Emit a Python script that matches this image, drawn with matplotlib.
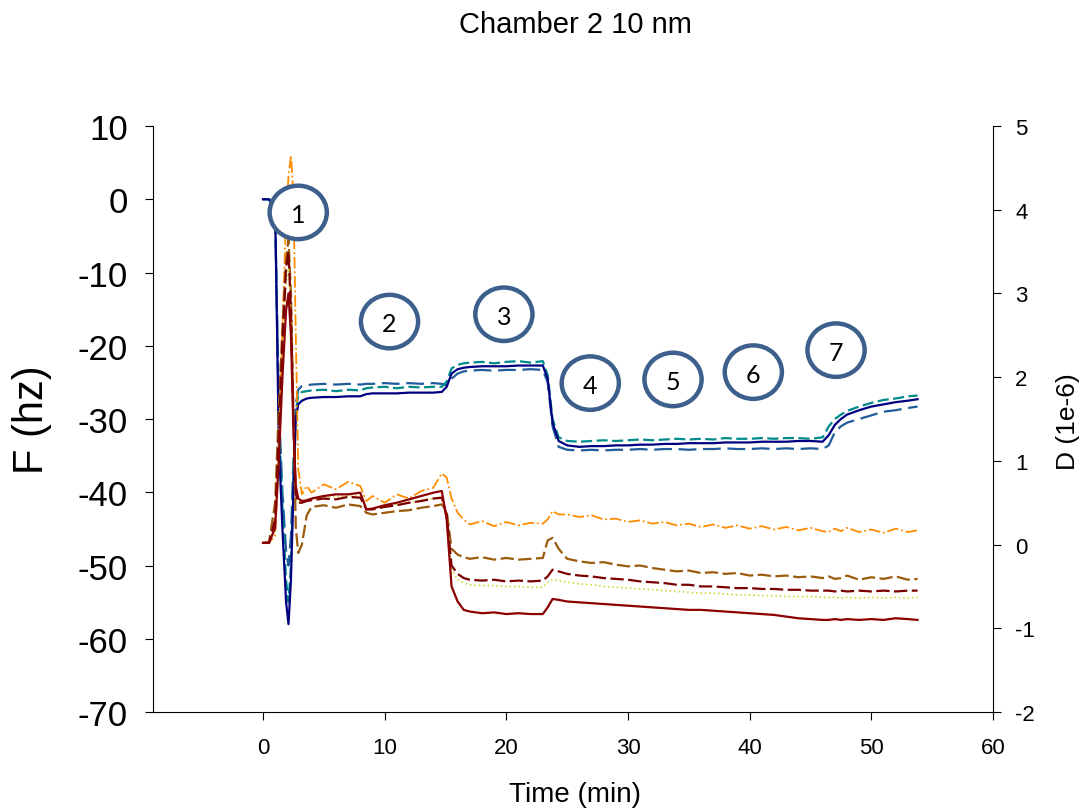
import matplotlib.pyplot as plt
from matplotlib.patches import Ellipse

plt.rcParams['font.family'] = ['Liberation Sans', 'DejaVu Sans']
plt.rcParams['axes.unicode_minus'] = False

# time grid (min), denser around the injection steps
t = [0, 0.5, 1.0, 1.3, 1.6, 1.9, 2.1, 2.3, 2.5, 2.7, 2.9, 3.2, 3.6, 4,
     5, 6, 7, 8, 8.5, 9, 10, 11, 12, 13, 14, 14.7, 15.1, 15.5, 16, 16.5,
     17, 18, 19, 20, 21, 22, 23, 23.4, 23.8, 24.3,
     25, 26, 27, 28, 29, 30, 31, 32, 33, 34, 35, 36, 37, 38, 39, 40,
     41, 42, 43, 44, 45, 46, 46.5, 47, 47.5, 48, 49, 50, 51, 52, 53, 53.8]

# frequency shifts (Hz), left axis
f_navy = [0, 0, -1, -33, -45, -55, -58, -52, -40, -30, -28, -27.5, -27.2, -27.1,
          -27, -27, -26.9, -26.9, -26.6, -26.5, -26.5, -26.5, -26.4, -26.4, -26.4,
          -26.3, -25.6, -23.8, -23.2, -23.0,
          -22.9, -22.8, -22.8, -22.8, -22.7, -22.7, -22.7, -24.5, -30.5, -33.0,
          -33.6, -33.8, -33.7, -33.7, -33.6, -33.6, -33.5, -33.5, -33.4, -33.4, -33.3,
          -33.3, -33.3, -33.2, -33.2, -33.2, -33.1, -33.1, -33.1, -33.0, -33.0, -33.1,
          -32.2, -30.8, -30.0, -29.4, -28.8, -28.3, -28.0, -27.7, -27.5, -27.3]
f_teal = [0, 0, -1, -30, -42, -52, -55, -50, -38, -29, -26.8, -26.3, -26.2, -26.1,
          -26.0, -26.2, -26.0, -26.1, -25.8, -25.7, -25.6, -25.8, -25.6, -25.7, -25.6,
          -25.6, -24.9, -23.1, -22.6, -22.4,
          -22.3, -22.2, -22.4, -22.2, -22.1, -22.3, -22.1, -24.0, -30.0, -32.5,
          -33.0, -33.1, -33.0, -32.9, -33.0, -32.9, -32.8, -32.9, -32.8, -32.7, -32.8,
          -32.7, -32.8, -32.6, -32.7, -32.7, -32.6, -32.7, -32.6, -32.6, -32.7, -32.5,
          -31.0, -30.0, -29.4, -28.9, -28.3, -27.8, -27.4, -27.2, -26.9, -26.8]
f_steel = [0, 0, -2, -28, -40, -48, -50, -46, -36, -28, -26, -25.5, -25.4, -25.3,
           -25.2, -25.3, -25.2, -25.3, -25.2, -25.2, -25.1, -25.2, -25.1, -25.2, -25.1,
           -25.2, -25.4, -24.5, -23.8, -23.5,
           -23.4, -23.3, -23.4, -23.3, -23.3, -23.2, -23.3, -25.0, -31.0, -33.8,
           -34.2, -34.3, -34.2, -34.3, -34.2, -34.2, -34.1, -34.2, -34.1, -34.1, -34.2,
           -34.1, -34.1, -34.0, -34.1, -34.1, -34.0, -34.1, -34.0, -34.1, -34.0, -34.1,
           -33.6, -31.8, -31.0, -30.5, -30.0, -29.5, -29.0, -28.8, -28.5, -28.3]

# dissipation (1e-6), right axis
d_orange = [0.02, 0.03, 0.1, 1.0, 2.6, 3.9, 4.4, 4.65, 4.2, 2.5, 0.9, 0.6, 0.7, 0.62,
            0.72, 0.66, 0.75, 0.7, 0.52, 0.58, 0.5, 0.6, 0.55, 0.64, 0.68,
            0.85, 0.8, 0.55, 0.38, 0.3,
            0.24, 0.28, 0.22, 0.27, 0.23, 0.26, 0.25, 0.3, 0.4, 0.36,
            0.36, 0.33, 0.35, 0.3, 0.31, 0.27, 0.29, 0.25, 0.27, 0.23, 0.25,
            0.21, 0.24, 0.2, 0.23, 0.19, 0.22, 0.18, 0.21, 0.17, 0.2, 0.16,
            0.15, 0.19, 0.16, 0.2, 0.15, 0.18, 0.14, 0.19, 0.15, 0.17]
d_brown = [0.02, 0.03, 0.5, 1.6, 2.6, 3.4, 3.65, 3.0, 1.6, 0.2, -0.1, 0.0, 0.35, 0.45,
           0.47, 0.44, 0.48, 0.46, 0.38, 0.36, 0.38, 0.4, 0.41, 0.44, 0.46,
           0.48, 0.4, -0.05, -0.12, -0.15,
           -0.17, -0.15, -0.18, -0.16, -0.18, -0.17, -0.16, 0.05, 0.08, -0.05,
           -0.17, -0.2, -0.22, -0.21, -0.24, -0.26, -0.25, -0.28, -0.3, -0.32, -0.31,
           -0.34, -0.33, -0.35, -0.34, -0.37, -0.36, -0.38, -0.37, -0.39, -0.38, -0.4,
           -0.38, -0.41, -0.4, -0.37, -0.42, -0.39, -0.41, -0.38, -0.42, -0.41]
d_red_dash = [0.02, 0.02, 0.3, 1.3, 2.4, 3.3, 3.5, 2.8, 1.5, 0.6, 0.5, 0.5, 0.52, 0.53,
              0.55, 0.54, 0.57, 0.56, 0.42, 0.42, 0.45, 0.47, 0.5, 0.52, 0.55,
              0.56, 0.35, -0.25, -0.35, -0.4,
              -0.42, -0.43, -0.42, -0.44, -0.43, -0.44, -0.43, -0.38, -0.3, -0.32,
              -0.35, -0.37, -0.38, -0.4, -0.41, -0.42, -0.44, -0.45, -0.46, -0.48, -0.48,
              -0.5, -0.5, -0.51, -0.52, -0.52, -0.53, -0.53, -0.54, -0.54, -0.55, -0.55,
              -0.55, -0.56, -0.55, -0.56, -0.55, -0.56, -0.55, -0.56, -0.55, -0.55]
d_yellow = [0.02, 0.02, 0.3, 1.3, 2.3, 3.1, 3.3, 2.7, 1.4, 0.6, 0.5, 0.52, 0.53, 0.54,
            0.56, 0.57, 0.58, 0.58, 0.43, 0.43, 0.46, 0.48, 0.5, 0.53, 0.55,
            0.57, 0.3, -0.3, -0.42, -0.46,
            -0.48, -0.49, -0.49, -0.5, -0.5, -0.51, -0.51, -0.45, -0.42, -0.43,
            -0.45, -0.47, -0.48, -0.5, -0.51, -0.52, -0.53, -0.54, -0.55, -0.56, -0.57,
            -0.58, -0.58, -0.59, -0.6, -0.6, -0.61, -0.61, -0.62, -0.62, -0.62, -0.63,
            -0.63, -0.63, -0.64, -0.63, -0.64, -0.63, -0.64, -0.63, -0.64, -0.63]
d_red = [0.02, 0.02, 0.2, 1.0, 2.0, 2.8, 3.0, 2.5, 1.4, 0.7, 0.55, 0.52, 0.53, 0.55,
         0.58, 0.6, 0.6, 0.62, 0.42, 0.43, 0.47, 0.5, 0.54, 0.58, 0.62,
         0.64, 0.3, -0.5, -0.68, -0.78,
         -0.8, -0.82, -0.81, -0.83, -0.82, -0.83, -0.83, -0.75, -0.65, -0.66,
         -0.68, -0.69, -0.7, -0.71, -0.72, -0.73, -0.74, -0.75, -0.76, -0.77, -0.78,
         -0.78, -0.79, -0.8, -0.81, -0.82, -0.83, -0.84, -0.86, -0.88, -0.89, -0.9,
         -0.9, -0.89, -0.9, -0.89, -0.9, -0.89, -0.9, -0.88, -0.89, -0.9]

# numbered step markers (time, F position)
step_labels = ['1', '2', '3', '4', '5', '6', '7']
step_t = [2.9, 10.4, 19.8, 26.9, 33.7, 40.3, 47.1]
step_f = [-1.8, -16.7, -15.7, -25.1, -24.6, -23.6, -20.6]

fig = plt.figure(figsize=(10.91, 8.12), dpi=100)
ax = fig.add_axes([0.1402, 0.1219, 0.77, 0.7217])
ax2 = ax.twinx()

ax.plot(t, f_steel, color='#1F5C99', lw=1.6, ls=(0, (8, 3)))
ax.plot(t, f_teal, color='#008B8B', lw=1.6, ls=(0, (5, 2)))
ax.plot(t, f_navy, color='#000080', lw=1.6)

ax2.plot(t, d_orange, color='#FF8C00', lw=1.3, ls='-.')
ax2.plot(t, d_brown, color='#9C5A0C', lw=1.6, ls=(0, (6, 2)))
ax2.plot(t, d_yellow, color='#D6D640', lw=1.2, ls=':')
ax2.plot(t, d_red_dash, color='#7A0000', lw=1.6, ls=(0, (6, 2)))
ax2.plot(t, d_red, color='#8B0000', lw=1.6)

ax.set_xlim(-9.04, 60)
ax.set_ylim(-70, 10)
ax2.set_ylim(-2, 5)
ax.set_xticks(range(0, 61, 10))
ax.set_yticks(range(-70, 11, 10))
ax2.set_yticks(range(-2, 6))

for s in ['top', 'right']:
    ax.spines[s].set_visible(False)
for s in ['top', 'left', 'bottom']:
    ax2.spines[s].set_visible(False)
ax.tick_params(axis='y', direction='out', length=6, labelsize=25, pad=12)
ax.tick_params(axis='x', direction='out', length=6, labelsize=16, pad=12)
ax2.tick_params(axis='y', direction='out', length=6, labelsize=16, pad=10)

for lab, x, y in zip(step_labels, step_t, step_f):
    ax2.add_patch(Ellipse((x, y), 4.7, 7.3, transform=ax.transData,
                          facecolor='white', edgecolor='#3D5F8C', lw=3.2, zorder=10))
    ax2.text(x, y - 0.3, lab, transform=ax.transData, ha='center', va='center',
             fontsize=18, family='Lato', zorder=11)

fig.text(0.527, 1 - 25 / 812, 'Chamber 2 10 nm', ha='center', va='center', fontsize=21)
fig.text(0.527, 1 - 795 / 812, 'Time (min)', ha='center', va='center', fontsize=20)
fig.text(32 / 1091, 1 - 420 / 812, 'F (hz)', ha='center', va='center',
         rotation=90, fontsize=30)
fig.text(1068 / 1091, 1 - 422 / 812, 'D (1e-6)', ha='center', va='center',
         rotation=90, fontsize=19)

fig.savefig('out.png', dpi=100)
